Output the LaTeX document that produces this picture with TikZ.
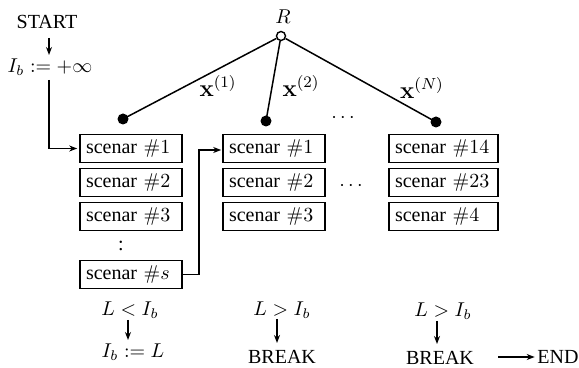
\documentclass[tikz,border=0pt]{standalone}
\usepackage[no-math]{fontspec}
\setmainfont{Liberation Serif}
\usetikzlibrary{arrows.meta,calc}
\begin{document}
\begin{tikzpicture}[x=0.5pt,y=-0.5pt,
  line width=0.75pt,
  arr/.style={-{Stealth[length=4pt,width=3pt]}},
  sbox/.style={draw,line width=0.8pt,text width=45pt,inner xsep=3pt,inner ysep=0pt,minimum height=14pt,align=left,text height=7pt,text depth=1.5pt},
  wbox/.style={sbox,text width=48.5pt},
  lab/.style={inner sep=1pt},
  xlab/.style={inner sep=1pt,font=\large},
  fdot/.style={circle,fill=black,inner sep=0pt,minimum size=5.5pt},
  odot/.style={circle,draw,fill=white,inner sep=0pt,minimum size=4.5pt,line width=0.7pt}]
\useasboundingbox (0,0) rectangle (579,368);
% start
\node[lab] (start) at (47,22) {START};
\node[lab] (ib0) at (50,67) {$I_b := +\infty$};
\coordinate (s1) at (49,38);
\coordinate (s2) at (49,55);
\draw[arr] (s1) -- (s2);
% column 1
\node[sbox] (a1) at (131,148.5) {scenar $\#1$};
\node[sbox] (a2) at (131,182.5) {scenar $\#2$};
\node[sbox] (a3) at (131,216.5) {scenar $\#3$};
\node[lab] (acol) at (121,246) {:};
\node[sbox] (as) at (131,274.5) {scenar $\#s$};
% column 2
\node[sbox] (b1) at (274,148.5) {scenar $\#1$};
\node[sbox] (b2) at (274,182.5) {scenar $\#2$};
\node[sbox] (b3) at (274,216.5) {scenar $\#3$};
% column 3
\node[wbox] (c1) at (443.5,148.5) {scenar $\#14$};
\node[wbox] (c2) at (443.5,182.5) {scenar $\#23$};
\node[wbox] (c3) at (443.5,216.5) {scenar $\#4$};
% dots
\node[lab] (d1) at (343,118) {$\cdots$};
\node[lab] (d2) at (351,186) {$\cdots$};
% tree
\node[odot] (R) at (281,36) {};
\node[lab,anchor=south] (Rl) at (283,26) {$R$};
\node[fdot] (p1) at (123,119) {};
\node[fdot] (p2) at (266,121) {};
\node[fdot] (p3) at (436,122) {};
\draw (R) -- (p1.center);
\draw (R) -- (p2.center);
\draw (R) -- (p3.center);
\node[xlab] (x1) at (218,86) {$\mathbf{x}^{(1)}$};
\node[xlab] (x2) at (301,86) {$\mathbf{x}^{(2)}$};
\node[xlab] (xN) at (422,88) {$\mathbf{x}^{(N)}$};
% connectors
\coordinate (k1) at (49,80);
\draw[arr] (k1) |- ($(a1.west)+(-2,0)$);
\coordinate (k2) at (199,150);
\draw[arr] (as.east) -| (k2) -- ($(b1.west|-k2)+(-1,0)$);
% bottom
\node[lab] (l1) at (130,310) {$L < I_b$};
\node[lab] (r1) at (133,352) {$I_b := L$};
\draw[arr] (128,320) -- (128,340);
\node[lab] (l2) at (282,310) {$L > I_b$};
\node[lab] (r2) at (282,357) {BREAK};
\draw[arr] (277,319) -- (277,343);
\node[lab] (l3) at (443,311) {$L > I_b$};
\node[lab] (r3) at (440,358) {BREAK};
\draw[arr] (437,321) -- (437,344);
\node[lab] (e) at (558,357) {END};
\draw[arr] (498,357) -- (e.west);
\end{tikzpicture}
\end{document}
